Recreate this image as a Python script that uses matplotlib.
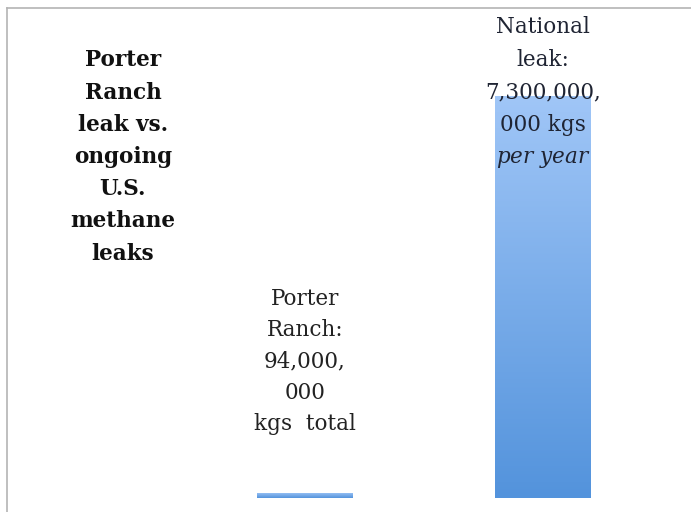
import numpy as np
import matplotlib.pyplot as plt
from matplotlib.colors import LinearSegmentedColormap
from matplotlib.lines import Line2D

# methane released, kg
categories = ['Porter Ranch', 'National']
leak_kg = [94e6, 7.3e9]
bar_labels = ['Porter\nRanch:\n94,000,\n000\nkgs  total',
              'National\nleak:\n7,300,000,\n000 kgs\n$\\it{per\\ year}$']
title = 'Porter\nRanch\nleak vs.\nongoing\nU.S.\nmethane\nleaks'

plt.rcParams['mathtext.fontset'] = 'dejavuserif'

W, H = 691, 512
fig = plt.figure(figsize=(W / 100, H / 100), dpi=100)
ax = fig.add_axes([7 / W, (H - 498) / H, (W - 7) / W, (498 - 8) / H])
ax.set_axis_off()

x = np.arange(len(categories))
grad = LinearSegmentedColormap.from_list('bar', ['#5393dc', '#a0c6f7'])
bars = ax.bar(x, leak_kg, width=0.40, color='none', edgecolor='none')
for b in bars:
    x0, y0 = b.get_x(), b.get_y()
    x1, y1 = x0 + b.get_width(), y0 + b.get_height()
    img = ax.imshow(np.linspace(0, 1, 256).reshape(-1, 1), cmap=grad,
                    origin='lower', aspect='auto', extent=[x0, x1, y0, y1],
                    zorder=2)
    img.set_clip_path(b)
ax.set_xlim(-1.252, 1.622)
ax.set_ylim(0, 7.3e9 * 490 / 402)

serif = 'DejaVu Serif'
ax.text(0, 0.278, bar_labels[0], transform=ax.get_xaxis_transform(),
        ha='center', va='center', fontsize=15.5, family=serif,
        color='#222222', linespacing=1.55, zorder=3)
ax.text(1, 0.826, bar_labels[1], transform=ax.get_xaxis_transform(),
        ha='center', va='center', fontsize=15.5, family=serif,
        color='#1f2433', linespacing=1.62, zorder=3)
fig.text(123 / W, 1 - 157 / H, title, ha='center', va='center',
         fontsize=15.5, family=serif, fontweight='bold', color='#111111',
         linespacing=1.6)

# frame lines on the left and top
fig.add_artist(Line2D([7 / W, 7 / W], [0, 1 - 8 / H], color='#b4b4b4', lw=1.2))
fig.add_artist(Line2D([7 / W, 1], [1 - 8 / H, 1 - 8 / H], color='#b4b4b4', lw=1.2))

fig.savefig('out.png', dpi=100)
